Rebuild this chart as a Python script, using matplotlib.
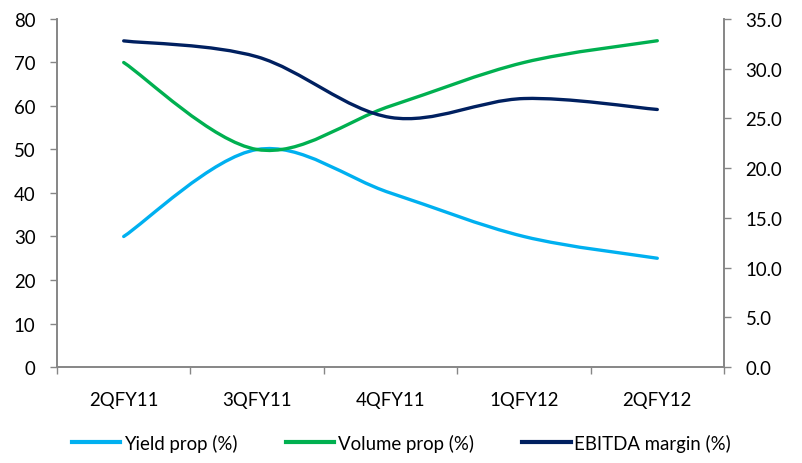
import matplotlib
matplotlib.use("Agg")
import matplotlib.pyplot as plt
import numpy as np
from matplotlib.path import Path
from matplotlib.patches import PathPatch
from matplotlib.lines import Line2D

plt.rcParams['font.family'] = ['Lato', 'DejaVu Sans']

quarters = ['2QFY11', '3QFY11', '4QFY11', '1QFY12', '2QFY12']
yield_prop = [30, 50, 40, 30, 25]
volume_prop = [70, 50, 60, 70, 75]
ebitda_margin = [32.8, 31.2, 25.1, 27.0, 25.9]

c_yield = '#00B0F0'
c_vol = '#00B050'
c_ebitda = '#002060'
grey = '#868686'
fs = 13.4


def smooth_path(xs, ys):
    # excel-style smoothed line as cubic bezier segments
    pts = np.column_stack([xs, ys]).astype(float)
    ext = np.vstack([pts[0], pts, pts[-1]])
    verts = [pts[0]]
    codes = [Path.MOVETO]
    for i in range(len(pts) - 1):
        p0, p1, p2, p3 = ext[i], ext[i + 1], ext[i + 2], ext[i + 3]
        verts += [p1 + (p2 - p0) / 6, p2 - (p3 - p1) / 6, p2]
        codes += [Path.CURVE4] * 3
    return Path(verts, codes)


fig = plt.figure(figsize=(8.03, 4.64), dpi=100)
ax = fig.add_axes([57 / 803, 1 - 368 / 464, (724 - 57) / 803, 348 / 464])
ax2 = ax.twinx()

x = np.arange(len(quarters))
for vals, col in [(yield_prop, c_yield), (volume_prop, c_vol)]:
    ax.add_patch(PathPatch(smooth_path(x, vals), facecolor='none', edgecolor=col,
                           lw=2.4, capstyle='round'))
ax2.add_patch(PathPatch(smooth_path(x, ebitda_margin), facecolor='none', edgecolor=c_ebitda,
                        lw=2.4, capstyle='round'))

ax.set_xlim(-0.5, len(quarters) - 0.5)
ax.set_ylim(0, 80)
ax.set_yticks(range(0, 81, 10))
ax2.set_ylim(0, 35)
ax2.set_yticks(np.arange(0, 35.1, 5))
ax2.set_yticklabels([f'{v:.1f}' for v in np.arange(0, 35.1, 5)])

ax.set_xticks(x)
ax.set_xticklabels(quarters)
ax.set_xticks(np.arange(-0.5, len(quarters)), minor=True)
ax.tick_params(axis='x', which='major', length=0, pad=17, labelsize=fs)
ax.tick_params(axis='x', which='minor', length=5, width=1, color=grey, direction='out')
ax.tick_params(axis='y', length=5, width=1, color=grey, pad=10.5, labelsize=fs)
ax2.tick_params(axis='y', length=5, width=1, color=grey, pad=10.5, labelsize=fs)

for a in (ax, ax2):
    a.spines['top'].set_visible(False)
    for s in ('left', 'right', 'bottom'):
        a.spines[s].set_color(grey)
        a.spines[s].set_linewidth(1.2)

handles = [Line2D([], [], color=c, lw=3) for c in (c_yield, c_vol, c_ebitda)]
fig.legend(handles, ['Yield prop (%)', 'Volume prop (%)', 'EBITDA margin (%)'],
           loc='lower center', bbox_to_anchor=(0.5, -0.012), ncol=3, frameon=False,
           fontsize=fs, handlelength=2.6, handletextpad=0.2, columnspacing=2.6)

fig.savefig('out.png', dpi=100)
